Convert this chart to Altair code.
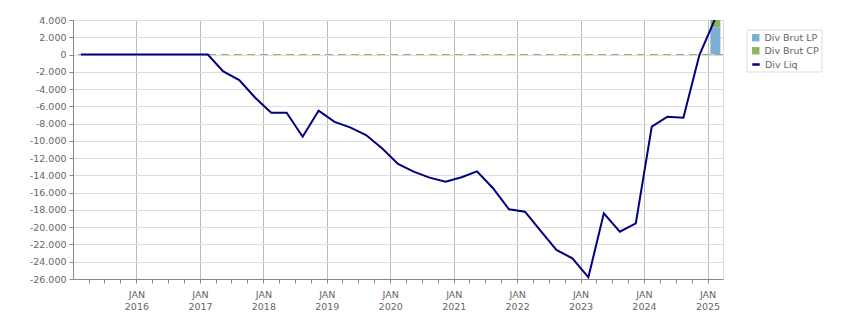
import altair as alt
import pandas as pd

# Quarterly observation dates
quarters = [
    "2015-02-15", "2015-05-15", "2015-08-15", "2015-11-15",
    "2016-02-15", "2016-05-15", "2016-08-15", "2016-11-15",
    "2017-02-15", "2017-05-15", "2017-08-15", "2017-11-15",
    "2018-02-15", "2018-05-15", "2018-08-15", "2018-11-15",
    "2019-02-15", "2019-05-15", "2019-08-15", "2019-11-15",
    "2020-02-15", "2020-05-15", "2020-08-15", "2020-11-15",
    "2021-02-15", "2021-05-15", "2021-08-15", "2021-11-15",
    "2022-02-15", "2022-05-15", "2022-08-15", "2022-11-15",
    "2023-02-15", "2023-05-15", "2023-08-15", "2023-11-15",
    "2024-02-15", "2024-05-15", "2024-08-15", "2024-11-15",
    "2025-02-15",
]
div_liq = [
    0, 0, 0, 0,
    0, 0, 0, 0,
    0, -1950, -2950, -5000,
    -6740, -6740, -9520, -6500,
    -7800, -8430, -9320, -10860,
    -12680, -13570, -14260, -14730,
    -14220, -13530, -15490, -17930,
    -18200, -20400, -22640, -23600,
    -25800, -18390, -20520, -19550,
    -8360, -7200, -7320, -60,
    4200,
]
bar_date = "2025-02-15"
bar_series = ["Div Brut LP", "Div Brut CP"]
bar_values = [3150, 1050]
bar_colors = ["#7bafd4", "#8db462"]
line_series = ["Div Liq"]
line_colors = ["#000080"]
y_ticks = [-26000, -24000, -22000, -20000, -18000, -16000, -14000, -12000,
           -10000, -8000, -6000, -4000, -2000, 0, 2000, 4000]

line_df = pd.DataFrame({
    "date": [d + "T00:00:00" for d in quarters],
    "value": div_liq,
    "series": ["Div Liq"] * len(quarters),
})
bar_df = pd.DataFrame({
    "date": [bar_date + "T00:00:00"] * 2,
    "value": bar_values,
    "series": bar_series,
    "ord": [0, 1],
})
zero_df = pd.DataFrame({"y": [0]})

FONT = "DejaVu Sans"
x_scale = alt.Scale(domain=[alt.DateTime(year=2015, month=1, date=1),
                            alt.DateTime(year=2025, month=3, date=31)],
                    padding=0)
y_scale = alt.Scale(domain=[-26000, 4000], nice=False, zero=False, padding=0)

is_jan = "month(datum.value) == 0 && year(datum.value) > 2015"
x_axis = alt.Axis(
    title=None,
    tickCount={"interval": "month", "step": 3},
    labelExpr="(month(datum.value) == 0 && year(datum.value) > 2015) ? ['JAN', timeFormat(datum.value, '%Y')] : ''",
    labelOverlap=False,
    labelFlush=False,
    grid=True,
    gridColor="#bbbbbb",
    gridOpacity={"condition": {"test": is_jan, "value": 1}, "value": 0},
    tickSize=4,
    tickColor="#888888",
    tickOpacity={"condition": {"test": "year(datum.value) == 2015 && month(datum.value) == 0", "value": 0}, "value": 1},
    domainColor="#888888",
    labelColor="#666666",
    labelFont=FONT,
    labelFontSize=9.5,
    labelLineHeight=12.7,
    labelPadding=6,
)
y_axis = alt.Axis(
    title=None,
    values=y_ticks,
    labelExpr="(datum.value < 0 ? '-' : '') + replace(format(abs(datum.value), ','), ',', '.')",
    grid=True,
    gridColor="#dddddd",
    tickSize=4,
    tickColor="#888888",
    domainColor="#888888",
    labelColor="#666666",
    labelFont=FONT,
    labelFontSize=9.5,
    labelPadding=3,
)

common_legend = dict(
    title=None,
    orient="none",
    legendX=678,
    padding=0,
    symbolSize=55,
    labelFont=FONT,
    labelFontSize=9.5,
    labelColor="#666666",
    labelOffset=4,
    rowPadding=2,
)
fill_legend = alt.Legend(legendY=13, symbolType="square", **common_legend)
stroke_legend = alt.Legend(legendY=39.5, symbolType="stroke",
                           symbolStrokeWidth=2.5, **common_legend)

legend_box = alt.Chart(zero_df).mark_rect(
    fill="white", stroke="#dddddd", strokeWidth=1
).encode(x=alt.value(674), x2=alt.value(749), y=alt.value(10), y2=alt.value(52))

zero_rule = alt.Chart(zero_df).mark_rule(
    color="#8cb86a", strokeDash=[8, 5], strokeWidth=1
).encode(y=alt.Y("y:Q", scale=y_scale, axis=y_axis))

bars = alt.Chart(bar_df).mark_bar(size=10, clip=True, opacity=1).encode(
    x=alt.X("date:T", scale=x_scale, axis=x_axis),
    y=alt.Y("value:Q", stack="zero", scale=y_scale, axis=y_axis),
    fill=alt.Fill("series:N", scale=alt.Scale(domain=bar_series, range=bar_colors),
                  legend=fill_legend),
    order=alt.Order("ord:Q"),
)

line = alt.Chart(line_df).mark_line(strokeWidth=2, clip=True).encode(
    x=alt.X("date:T", scale=x_scale, axis=x_axis),
    y=alt.Y("value:Q", scale=y_scale, axis=y_axis),
    stroke=alt.Stroke("series:N", scale=alt.Scale(domain=line_series, range=line_colors),
                      legend=stroke_legend),
)

chart = alt.layer(zero_rule, bars, line, legend_box).resolve_scale(
    fill="independent", stroke="independent"
).properties(
    width=650,
    height=259,
    autosize=alt.AutoSizeParams(type="none"),
    padding={"left": 73, "top": 20, "right": 128, "bottom": 34},
    background="white",
).configure_view(stroke="#dddddd")

chart.save("out.html", embed_options={"renderer": "svg", "actions": False})
